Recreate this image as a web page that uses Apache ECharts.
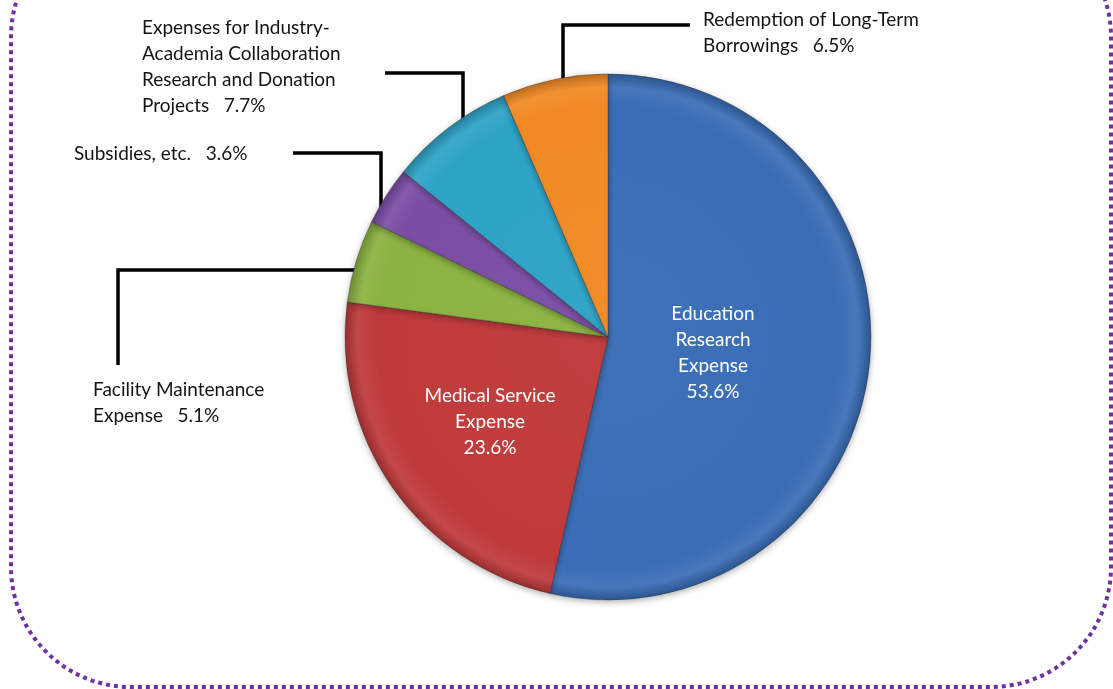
<!DOCTYPE html>
<html>
<head>
<meta charset="utf-8">
<script src="https://cdn.jsdelivr.net/npm/echarts@6/dist/echarts.min.js"></script>
<style>
  html, body { margin: 0; padding: 0; background: #ffffff; }
  #chart { width: 1113px; height: 689px; }
</style>
</head>
<body>
<div id="chart"></div>
<script>
// Expenditure breakdown (%), clockwise from 12 o'clock
const categories = [
  'Education\nResearch\nExpense',
  'Medical Service\nExpense',
  'Facility Maintenance\nExpense',
  'Subsidies, etc.',
  'Expenses for Industry-\nAcademia Collaboration\nResearch and Donation\nProjects',
  'Redemption of Long-Term\nBorrowings'
];
const shares = [53.6, 23.6, 5.1, 3.6, 7.7, 6.5];
const sliceColors = ['#3a6db6', '#c03a3b', '#8bb341', '#7b4ea5', '#2ea3c6', '#f18a24'];
const labelInside = [true, true, false, false, false, false];

// Pie geometry (pixels)
const CX = 608, CY = 337, R = 263;

// Label anchor points and elbow leader lines
const labelPlacement = [
  { x: 713, y: 353, align: 'center' },
  { x: 490, y: 422, align: 'center' },
  { x: 93,  y: 403, align: 'left', line: [[357, 270], [118, 270], [118, 365]] },
  { x: 74,  y: 154, align: 'left', line: [[381, 218], [381, 153], [293, 153]] },
  { x: 142, y: 67,  align: 'left', line: [[463, 130], [463, 73], [385, 73]] },
  { x: 703, y: 33,  align: 'left', line: [[563, 92], [563, 25], [690, 25]] }
];

function shade(hex, amt) {
  const n = parseInt(hex.slice(1), 16);
  const r = (n >> 16) & 255, g = (n >> 8) & 255, b = n & 255;
  const f = (c) => Math.max(0, Math.min(255, Math.round(amt >= 0 ? c + (255 - c) * amt : c * (1 + amt))));
  return 'rgb(' + f(r) + ',' + f(g) + ',' + f(b) + ')';
}

function sliceFill(hex) {
  return {
    type: 'radial', x: CX, y: CY, r: R, global: true,
    colorStops: [
      { offset: 0, color: shade(hex, 0.03) },
      { offset: 0.88, color: hex },
      { offset: 0.95, color: shade(hex, 0.07) },
      { offset: 1, color: shade(hex, -0.2) }
    ]
  };
}

const FONT = 'Lato, "Open Sans", sans-serif';

const pieData = categories.map((name, i) => ({
  name: name,
  value: shares[i],
  itemStyle: { color: sliceFill(sliceColors[i]) },
  label: labelInside[i]
    ? { position: 'inside', color: '#ffffff', align: 'center' }
    : { position: 'outside', color: '#141414', align: 'left' },
  labelLine: { show: !labelInside[i] }
}));

const chart = echarts.init(document.getElementById('chart'), null, { renderer: 'canvas' });

chart.setOption({
  backgroundColor: '#ffffff',
  animation: false,
  graphic: [{
    type: 'rect',
    silent: true,
    shape: { x: 11, y: -83, width: 1100, height: 770, r: 120 },
    style: { fill: 'none', stroke: '#7030a0', lineWidth: 4, lineDash: [4, 4] }
  }],
  series: [{
    type: 'pie',
    center: [CX, CY],
    radius: [0, R],
    startAngle: 90,
    clockwise: true,
    avoidLabelOverlap: false,
    data: pieData,
    itemStyle: {
      borderColor: 'rgba(40,40,40,0.35)',
      borderWidth: 1,
      shadowBlur: 6,
      shadowOffsetY: 2,
      shadowColor: 'rgba(0,0,0,0.3)'
    },
    label: {
      fontFamily: FONT,
      fontSize: 19,
      lineHeight: 26,
      formatter: (p) => labelInside[p.dataIndex]
        ? p.name + '\n' + p.value + '%'
        : p.name + '   ' + p.value + '%'
    },
    labelLine: {
      show: true,
      smooth: false,
      lineStyle: { color: '#000000', width: 3.5 }
    },
    labelLayout: function (params) {
      const p = labelPlacement[params.dataIndex];
      const out = { x: p.x, y: p.y, align: p.align, verticalAlign: 'middle' };
      if (p.line) out.labelLinePoints = p.line;
      return out;
    },
    emphasis: { disabled: true }
  }]
});
</script>
</body>
</html>
